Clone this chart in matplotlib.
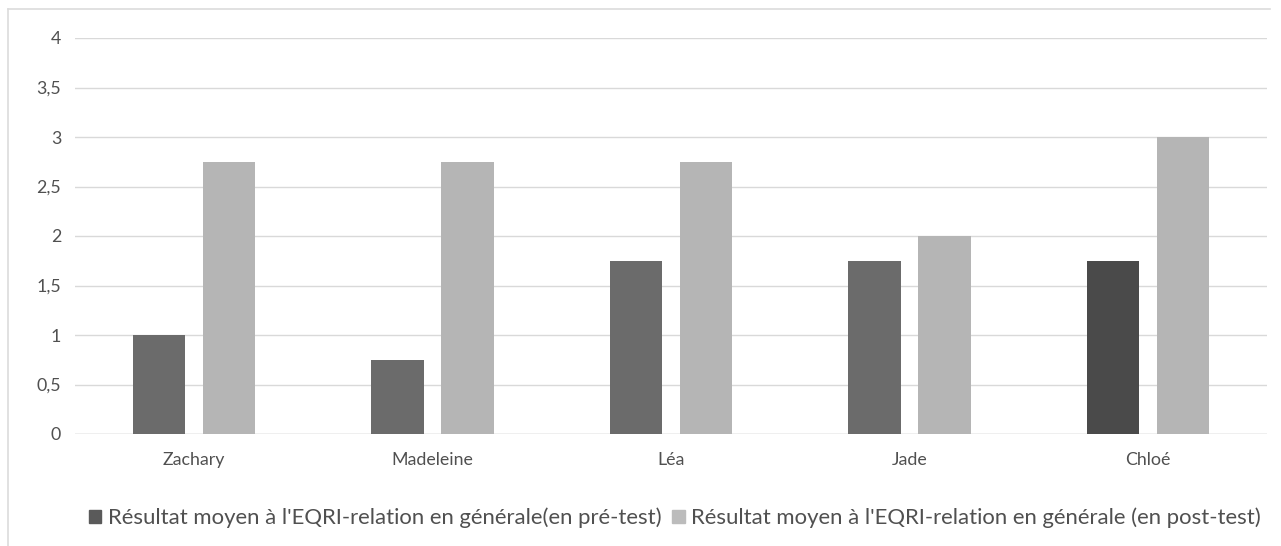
import numpy as np
from matplotlib import pyplot as plt
from matplotlib.patches import Patch
from matplotlib.lines import Line2D

# mean EQRI scores per child, before and after
eleves = ["Zachary", "Madeleine", "Léa", "Jade", "Chloé"]
pre_test = [1, 0.75, 1.75, 1.75, 1.75]
post_test = [2.75, 2.75, 2.75, 2, 3]
yticks = [0, 0.5, 1, 1.5, 2, 2.5, 3, 3.5, 4]
ytick_labels = ["0", "0,5", "1", "1,5", "2", "2,5", "3", "3,5", "4"]

label_pre = "Résultat moyen à l'EQRI-relation en générale(en pré-test)"
label_post = "Résultat moyen à l'EQRI-relation en générale (en post-test)"

texte = "#505050"
plt.rcParams["font.family"] = ["Lato", "DejaVu Sans"]

fig = plt.figure(figsize=(12.81, 5.46), dpi=100)
ax = fig.add_axes([75 / 1281, 1 - 434 / 546, (1267 - 75) / 1281, 396 / 546])

x = np.arange(len(eleves))
w = 0.22
couleurs_pre = ["#6b6b6b"] * 4 + ["#4a4a4a"]
ax.bar(x - 0.147, pre_test, w, color=couleurs_pre, zorder=3)
ax.bar(x + 0.147, post_test, w, color="#b5b5b5", zorder=3)

ax.set_xlim(-0.5, len(eleves) - 0.5)
ax.set_ylim(0, 4)
ax.set_yticks(yticks)
ax.set_yticklabels(ytick_labels)
ax.set_xticks(x)
ax.set_xticklabels(eleves)
ax.tick_params(length=0, labelsize=12.8, colors=texte)
ax.tick_params(axis="x", pad=13)
ax.tick_params(axis="y", pad=10)
ax.grid(axis="y", color="#d9d9d9", linewidth=1, zorder=0)
for s in ax.spines.values():
    s.set_visible(False)
ax.axhline(0, color="#d0d0d0", linewidth=1, zorder=2)

# outer chart frame (left and top edges)
fig.add_artist(Line2D([8 / 1281, 8 / 1281], [0, 1 - 9 / 546], color="#dcdcdc", linewidth=1.2))
fig.add_artist(Line2D([8 / 1281, 1270 / 1281], [1 - 9 / 546, 1 - 9 / 546], color="#dcdcdc", linewidth=1.2))

handles = [Patch(color="#5a5a5a"), Patch(color="#bcbcbc")]
fig.legend(handles, [label_pre, label_post], loc="center", ncol=2,
           bbox_to_anchor=(675 / 1281, 1 - 518 / 546), frameon=False,
           fontsize=15.9, labelcolor=texte, handlelength=0.55, handleheight=0.55,
           handletextpad=0.3, columnspacing=0.5)

fig.savefig("out.png", dpi=100, facecolor="white")
